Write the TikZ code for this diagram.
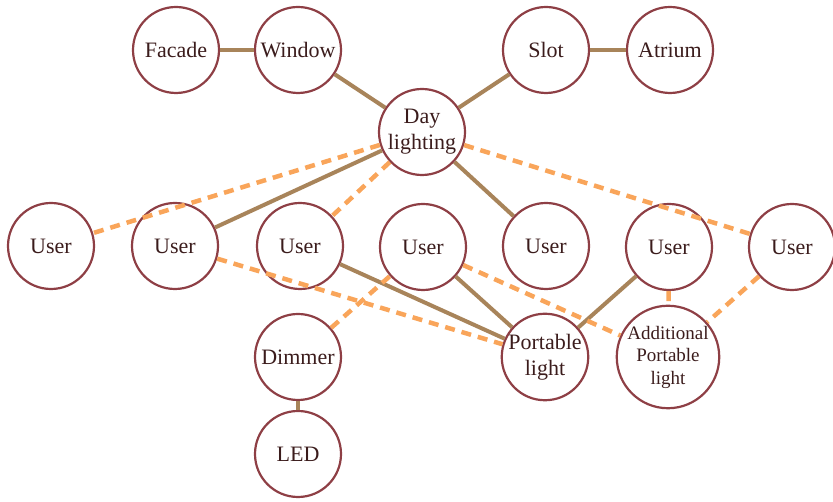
\documentclass[tikz,border=0pt]{standalone}
\usepackage{fontspec}
\setmainfont{Liberation Serif}
\definecolor{nodeborder}{HTML}{8E3F45}
\definecolor{txt}{HTML}{3B1C1C}
\definecolor{solidcol}{HTML}{A8845A}
\definecolor{dashcol}{HTML}{F9A55A}
\begin{document}
\begin{tikzpicture}[x=1pt,y=1pt,
  nd/.style={circle, draw=nodeborder, line width=2.2pt, minimum size=86pt, inner sep=0pt, text=txt, font=\fontsize{22}{26}\selectfont, align=center},
  ndsmall/.style={nd, font=\fontsize{19}{22.5}\selectfont},
  solidc/.style={draw=solidcol, line width=4pt},
  dashc/.style={draw=dashcol, line width=4.5pt, dash pattern=on 10pt off 7pt}]
\useasboundingbox (0,0) rectangle (833,502);
\node[nd] (facade) at (176,452) {Facade};
\node[nd] (window) at (298,452) {Window};
\node[nd] (slot) at (546,452) {Slot};
\node[nd] (atrium) at (670,452) {Atrium};
\node[nd] (day) at (422,370) {Day\\lighting};
\node[nd] (u1) at (51,256) {User};
\node[nd] (u2) at (175,256) {User};
\node[nd] (u3) at (300,256) {User};
\node[nd] (u4) at (423,255) {User};
\node[nd] (u5) at (546,256) {User};
\node[nd] (u6) at (669,255) {User};
\node[nd] (u7) at (792,255) {User};
\node[nd] (dimmer) at (298,145) {Dimmer};
\node[nd] (led) at (298,48) {LED};
\node[nd] (port) at (545,145) {Portable\\light};
\node[ndsmall] (addl) at (668,145) {Additional\\Portable\\light};
% solid connectors
\draw[solidc] (facade) -- (window);
\draw[solidc] (window) -- (day);
\draw[solidc] (slot) -- (day);
\draw[solidc] (slot) -- (atrium);
\draw[solidc] (day) -- (u2);
\draw[solidc] (day) -- (u5);
\draw[solidc] (u3) -- (port);
\draw[solidc] (u4) -- (port);
\draw[solidc] (u6) -- (port);
\draw[solidc] (dimmer) -- (led);
% dashed connectors
\draw[dashc] (day) -- (u1);
\draw[dashc] (day) -- (u3);
\draw[dashc] (day) -- (u7);
\draw[dashc] (u2) -- (port);
\draw[dashc] (u4) -- (addl);
\draw[dashc] (u6) -- (addl);
\draw[dashc] (u7) -- (addl);
\draw[dashc] (dimmer) -- (u4);
\end{tikzpicture}
\end{document}
